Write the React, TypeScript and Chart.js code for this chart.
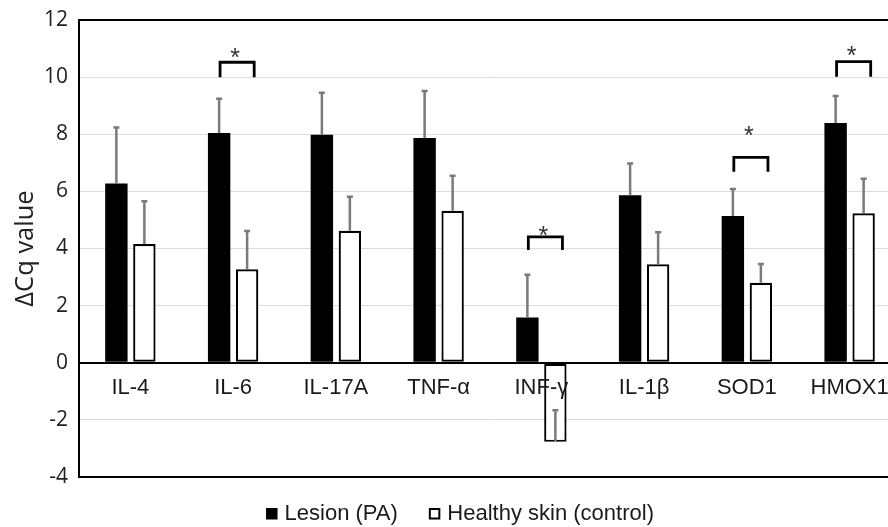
import React, { useEffect, useRef } from 'react';
import { Chart, registerables } from 'chart.js';

Chart.register(...registerables);

const categories = ['IL-4', 'IL-6', 'IL-17A', 'TNF-α', 'INF-γ', 'IL-1β', 'SOD1', 'HMOX1'];
const lesion = [6.28, 8.04, 7.98, 7.87, 1.58, 5.86, 5.14, 8.39];
const lesionErr = [1.96, 1.2, 1.47, 1.64, 1.5, 1.12, 0.94, 0.95];
const control = [4.16, 3.27, 4.62, 5.32, -2.77, 3.45, 2.8, 5.23];
const controlErr = [1.49, 1.34, 1.19, 1.23, 1.11, 1.12, 0.66, 1.21];

const sigIndex = [1, 4, 6, 7];
const sigTop = [10.52, 4.41, 7.19, 10.54];
const sigLeg = [10.0, 3.95, 6.69, 10.01];
const starY = [10.88, 4.67, 8.15, 10.95];

const yTicks = [-4, -2, 0, 2, 4, 6, 8, 10, 12];
const seriesLabels = ['Lesion (PA)', 'Healthy skin (control)'];

const SANS = '"Liberation Sans", Arial, sans-serif';
const OPEN = '"Open Sans", sans-serif';

export default function App() {
  const ref = useRef<HTMLCanvasElement | null>(null);

  useEffect(() => {
    if (!ref.current) return;

    const errorBars = {
      id: 'errorBars',
      afterDatasetsDraw(chart: any) {
        const ctx = chart.ctx;
        const ys = chart.scales.y;
        const errs = [lesionErr, controlErr];
        chart.data.datasets.forEach((ds: any, di: number) => {
          const meta = chart.getDatasetMeta(di);
          meta.data.forEach((bar: any, i: number) => {
            const v = ds.data[i] as number;
            const top = ys.getPixelForValue(v + errs[di][i]);
            const x = bar.x;
            ctx.save();
            ctx.strokeStyle = '#7a7a7a';
            ctx.lineWidth = 2.5;
            ctx.beginPath();
            ctx.moveTo(x, bar.y);
            ctx.lineTo(x, top);
            ctx.moveTo(x - 3, top);
            ctx.lineTo(x + 3, top);
            ctx.stroke();
            ctx.restore();
          });
        });

        // significance brackets
        const xs = chart.scales.x;
        const cw = xs.getPixelForValue(1) - xs.getPixelForValue(0);
        sigIndex.forEach((ci, k) => {
          const xc = xs.getPixelForValue(ci);
          const l = xc - 0.127 * cw;
          const r = xc + 0.205 * cw;
          const t = ys.getPixelForValue(sigTop[k]);
          const b = ys.getPixelForValue(sigLeg[k]);
          ctx.save();
          ctx.strokeStyle = '#000';
          ctx.lineWidth = 2.8;
          ctx.lineJoin = 'miter';
          ctx.beginPath();
          ctx.moveTo(l, b);
          ctx.lineTo(l, t);
          ctx.lineTo(r, t);
          ctx.lineTo(r, b);
          ctx.stroke();
          ctx.fillStyle = '#333';
          ctx.font = '25px ' + SANS;
          ctx.textAlign = 'center';
          ctx.textBaseline = 'alphabetic';
          ctx.fillText('*', xc + 0.02 * cw, ys.getPixelForValue(starY[k]) + 0.575 * 25);
          ctx.restore();
        });
      },
    };

    const customLegend = {
      id: 'customLegend',
      afterDraw(chart: any) {
        const ctx = chart.ctx;
        ctx.save();
        ctx.font = '22px ' + SANS;
        const box = 11.5;
        const gap = 7;
        const spacing = 31;
        const items = chart.data.datasets.map((ds: any) => ({
          text: ds.label as string,
          fill: ds.backgroundColor as string,
          border: ds.borderWidth ? (ds.borderColor as string) : null,
          w: ctx.measureText(ds.label).width,
        }));
        let total = 0;
        items.forEach((it: any, i: number) => {
          total += box + gap + it.w + (i > 0 ? spacing : 0);
        });
        let x = 460 - total / 2;
        const baseline = 519.5;
        items.forEach((it: any) => {
          ctx.fillStyle = it.fill;
          ctx.fillRect(x, baseline - box, box, box);
          if (it.border) {
            ctx.strokeStyle = it.border;
            ctx.lineWidth = 2;
            ctx.strokeRect(x + 1, baseline - box + 1, box - 2, box - 2);
          }
          ctx.fillStyle = '#1a1a1a';
          ctx.textAlign = 'left';
          ctx.textBaseline = 'alphabetic';
          ctx.fillText(it.text, x + box + gap, baseline);
          x += box + gap + it.w + spacing;
        });
        ctx.restore();
      },
    };

    const strongLine = (v: number) => v === 0 || v === yTicks[0] || v === yTicks[yTicks.length - 1];

    const chart = new Chart(ref.current, {
      type: 'bar',
      data: {
        labels: categories,
        datasets: [
          {
            label: seriesLabels[0],
            data: lesion,
            backgroundColor: '#000000',
            borderWidth: 0,
            categoryPercentage: 0.545,
            barPercentage: 0.8,
          },
          {
            label: seriesLabels[1],
            data: control,
            backgroundColor: '#ffffff',
            borderColor: '#000000',
            borderWidth: 2.2,
            borderSkipped: false,
            categoryPercentage: 0.545,
            barPercentage: 0.8,
          },
        ],
      },
      options: {
        animation: false,
        responsive: true,
        maintainAspectRatio: false,
        layout: { padding: { left: 10, right: 4, top: 20, bottom: 50 } },
        plugins: {
          legend: { display: false },
          tooltip: { enabled: false },
        },
        scales: {
          x: {
            type: 'category',
            position: { y: 0 } as any,
            grid: { display: false, drawTicks: false },
            border: { display: true, color: '#000', width: 2 },
            ticks: {
              z: 1,
              color: '#1a1a1a',
              font: { family: SANS, size: 22 },
              padding: 12,
              autoSkip: false,
              maxRotation: 0,
            },
          },
          y: {
            min: yTicks[0],
            max: yTicks[yTicks.length - 1],
            afterBuildTicks: (scale: any) => {
              scale.ticks = yTicks.map((v) => ({ value: v }));
            },
            afterFit: (scale: any) => {
              scale.width = 69;
              scale.paddingTop = 10;
              scale.paddingBottom = 10;
            },
            grid: {
              drawTicks: false,
              color: (c: any) => (strongLine(c.tick.value) ? '#000000' : '#dcdcdc'),
              lineWidth: (c: any) => (strongLine(c.tick.value) ? 2 : 1),
            },
            border: { display: true, color: '#000', width: 2 },
            ticks: {
              color: '#222',
              font: { family: OPEN, size: 21 },
              padding: 11,
            },
            title: {
              display: true,
              text: 'ΔCq value',
              color: '#222',
              font: { family: OPEN, size: 25.5 },
              padding: { top: 0, bottom: 0 },
            },
          },
        },
      },
      plugins: [errorBars, customLegend],
    } as any);

    return () => chart.destroy();
  }, []);

  return (
    <div
      style={{
        position: 'fixed',
        left: 0,
        top: 0,
        width: 888,
        height: 527,
        overflow: 'hidden',
        background: '#ffffff',
      }}
    >
      <div style={{ position: 'relative', width: 905, height: 527 }}>
        <canvas ref={ref} />
      </div>
    </div>
  );
}
